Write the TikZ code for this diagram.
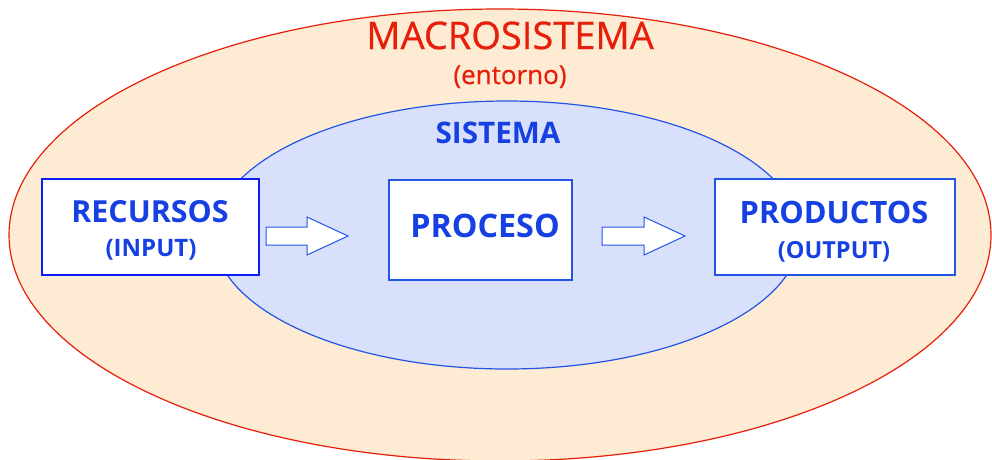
\documentclass[tikz,border=0pt]{standalone}
\usepackage{fontspec}
\setmainfont{Open Sans}
\usetikzlibrary{shapes.geometric}
\definecolor{peach}{HTML}{FDEBD3}
\definecolor{redline}{HTML}{E61E0A}
\definecolor{lblue}{HTML}{D9E0FC}
\definecolor{eblue}{HTML}{2255E6}
\definecolor{tblue}{HTML}{1640E2}
\definecolor{bblue}{HTML}{0A1EF5}
\begin{document}
\begin{tikzpicture}[x=1pt,y=-1pt,
  boxstyle/.style={draw=eblue,line width=1.3pt,fill=white,rectangle,inner sep=0pt},
  bluetxt/.style={text=tblue,anchor=base,inner sep=0pt},
  redtxt/.style={text=redline,anchor=base,inner sep=0pt},
  arrowstyle/.style={draw=eblue,line width=1pt,fill=white,line join=miter}]
\useasboundingbox (0,0) rectangle (992,459);
\clip (0,0) rectangle (992,459);
\node[ellipse,draw=redline,fill=peach,line width=1.2pt,minimum width=982pt,minimum height=452pt,inner sep=0pt] (macro) at (500,235) {};
\node[ellipse,draw=eblue,fill=lblue,line width=1.2pt,minimum width=586pt,minimum height=268pt,inner sep=0pt] (sis) at (507,235) {};
\node[redtxt,font=\addfontfeature{FakeBold=0.6}\fontsize{38}{42}\selectfont] (tmacro) at (510,49) {MACROSISTEMA};
\node[redtxt,font=\addfontfeature{FakeBold=0.6}\fontsize{26}{30}\selectfont] (tentorno) at (510,84) {(entorno)};
\node[bluetxt,font=\bfseries\fontsize{29.7}{32}\selectfont] (tsis) at (498,143) {SISTEMA};
\node[boxstyle,draw=bblue,line width=1.8pt,minimum width=217pt,minimum height=96pt] (rec) at (150.5,227) {};
\node[boxstyle,minimum width=183pt,minimum height=100pt] (proc) at (480.5,230) {};
\node[boxstyle,minimum width=240pt,minimum height=96pt] (prod) at (835,227) {};
\node[bluetxt,font=\bfseries\fontsize{30.4}{32}\selectfont] (trec) at (150,222) {RECURSOS};
\node[bluetxt,font=\bfseries\fontsize{24}{26}\selectfont] (tin) at (151,256) {(INPUT)};
\node[bluetxt,font=\bfseries\fontsize{32.3}{34}\selectfont] (tproc) at (485,237) {PROCESO};
\node[bluetxt,font=\bfseries\fontsize{30.8}{32}\selectfont] (tprod) at (834,223) {PRODUCTOS};
\node[bluetxt,font=\bfseries\fontsize{23.5}{26}\selectfont] (tout) at (834,258) {(OUTPUT)};
\draw[arrowstyle] (266,227) -- (307,227) -- (307,217) -- (348,236) -- (307,255) -- (307,245) -- (266,245) -- cycle;
\draw[arrowstyle] (602,227) -- (644,227) -- (644,217) -- (685,236) -- (644,255) -- (644,245) -- (602,245) -- cycle;
\end{tikzpicture}
\end{document}
